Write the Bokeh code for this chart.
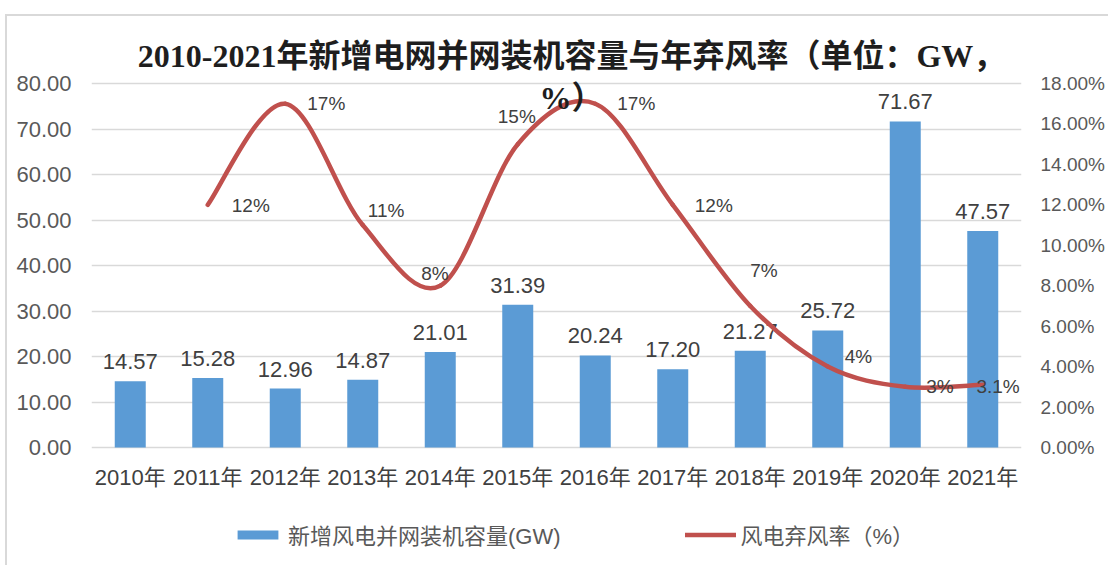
from bokeh.plotting import figure
from bokeh.models import (Range1d, LinearAxis, FixedTicker, PrintfTickFormatter,
                          Label, Legend, LegendItem, ColumnDataSource, InlineStyleSheet)
from bokeh.core.properties import value
from bokeh.embed import file_html
from bokeh.resources import INLINE

# ---------------- data ----------------
years = ["2010年", "2011年", "2012年", "2013年", "2014年", "2015年",
         "2016年", "2017年", "2018年", "2019年", "2020年", "2021年"]
capacity = [14.57, 15.28, 12.96, 14.87, 21.01, 31.39, 20.24, 17.20, 21.27, 25.72, 71.67, 47.57]
curtail = [None, 12, 17, 11, 8, 15, 17, 12, 7, 4, 3, 3.1]

title_line1 = "2010-2021年新增电网并网装机容量与年弃风率（单位：GW，"
title_line2 = "%）"
bar_name = "新增风电并网装机容量(GW)"
line_name = "风电弃风率（%）"

# label offsets (style only, px)
lbl_dx = [0, 24, 22, 5, -19, -20, 22, 22, 0, 17, 21, 37]
lbl_dy = [0, 1, 0, -15, -12, -28, 0, 1, -35, -10, 0, 2]
lbl_align = ["left"] * 11 + ["right"]

BLUE = "#5B9BD5"
RED = "#C0504D"
SANS = "Liberation Sans, Noto Sans CJK SC"

# layout constants (page px): grid 80 at y=83, grid 0 at y=447, frame from x=91 to ~1023
W, H = 1108, 565
PX_PER_UNIT = 364 / 80.0
TOP_EXTRA = 63          # frame extends above the 80 line (title room)
BOTTOM_EXTRA = H - 447  # frame extends below the 0 line (x labels + legend room)
Y_END = 80 + TOP_EXTRA / PX_PER_UNIT
Y_START = -BOTTOM_EXTRA / PX_PER_UNIT

n = len(years)
xs = [i + 0.5 for i in range(n)]

p = figure(width=W, height=H, output_backend="svg", toolbar_location=None,
           x_range=Range1d(0, n), y_range=Range1d(Y_START, Y_END),
           min_border_left=91, min_border_right=87, min_border_top=83 - TOP_EXTRA,
           min_border_bottom=0)
p.extra_y_ranges = {"pct": Range1d(Y_START * 18 / 80.0, Y_END * 18 / 80.0)}
p.outline_line_color = None
p.background_fill_color = "white"
p.border_fill_color = "white"
p.xgrid.visible = False
p.ygrid.grid_line_color = "#D9D9D9"
p.ygrid.grid_line_width = 1.5
p.stylesheets = [InlineStyleSheet(css=(
    ":host::after{content:'';position:absolute;left:5px;top:14px;width:1300px;height:700px;"
    "border-left:2px solid #D9D9D9;border-top:2px solid #D9D9D9;pointer-events:none;}"))]

p.yaxis.ticker = FixedTicker(ticks=list(range(0, 81, 10)))
p.yaxis.formatter = PrintfTickFormatter(format="%.2f")
p.xaxis.ticker = FixedTicker(ticks=xs)
p.xaxis.major_label_overrides = {x: y for x, y in zip(xs, years)}
p.xaxis.fixed_location = 0

right = LinearAxis(y_range_name="pct", ticker=FixedTicker(ticks=list(range(0, 19, 2))),
                   formatter=PrintfTickFormatter(format="%.2f%%"))
p.add_layout(right, "right")

for ax in [p.xaxis[0], p.yaxis[0], right]:
    ax.axis_line_color = None
    ax.major_tick_line_color = None
    ax.minor_tick_line_color = None
    ax.major_tick_out = 0
    ax.major_tick_in = 0
    ax.major_label_text_color = "#595959"
    ax.major_label_text_font = SANS
p.yaxis[0].major_label_text_font_size = "22px"
p.yaxis[0].major_label_standoff = 20
right.major_label_text_font_size = "19px"
right.major_label_standoff = 19
p.xaxis[0].major_label_text_font_size = "22px"
p.xaxis[0].major_label_standoff = 17
p.xaxis[0].major_label_text_color = "#404040"

# bars
bsrc = ColumnDataSource(dict(x=xs, top=capacity, txt=["%.2f" % v for v in capacity]))
bars = p.vbar(x="x", top="top", width=0.4, source=bsrc, fill_color=BLUE, line_color=None)
p.text(x="x", y="top", text="txt", source=bsrc, text_align="center", text_baseline="bottom",
       y_offset=-12, text_font=value(SANS), text_font_size="22px", text_color="#404040")

# smooth line via bezier segments (Catmull-Rom style control points)
pts = [(x, v) for x, v in zip(xs, curtail) if v is not None]
x0s, y0s, x1s, y1s, cx0s, cy0s, cx1s, cy1s = [], [], [], [], [], [], [], []
for i in range(len(pts) - 1):
    pm = pts[i - 1] if i > 0 else pts[i]
    p0 = pts[i]
    p1 = pts[i + 1]
    pp = pts[i + 2] if i + 2 < len(pts) else pts[i + 1]
    x0s.append(p0[0]); y0s.append(p0[1]); x1s.append(p1[0]); y1s.append(p1[1])
    cx0s.append(p0[0] + (p1[0] - pm[0]) / 6.0); cy0s.append(p0[1] + (p1[1] - pm[1]) / 6.0)
    cx1s.append(p1[0] - (pp[0] - p0[0]) / 6.0); cy1s.append(p1[1] - (pp[1] - p0[1]) / 6.0)
curve = p.bezier(x0=x0s, y0=y0s, x1=x1s, y1=y1s, cx0=cx0s, cy0=cy0s, cx1=cx1s, cy1=cy1s,
                 y_range_name="pct", line_color=RED, line_width=4.5, line_cap="round")

lx, ly, lt, ldx, ldy, lal = [], [], [], [], [], []
for i, v in enumerate(curtail):
    if v is None:
        continue
    lx.append(xs[i]); ly.append(v); lt.append(f"{v:g}%")
    ldx.append(lbl_dx[i]); ldy.append(lbl_dy[i]); lal.append(lbl_align[i])
lsrc = ColumnDataSource(dict(x=lx, y=ly, t=lt, dx=ldx, dy=ldy, al=lal))
p.text(x="x", y="y", text="t", x_offset="dx", y_offset="dy", source=lsrc, y_range_name="pct",
       text_align="al", text_baseline="middle", text_font=value(SANS),
       text_font_size="19px", text_color="#404040")

# title (inside the extended frame, overlapping the plot like the reference)
TFONT = "Liberation Serif, Noto Sans CJK SC"
for txt, page_y in [(title_line1, 55), (title_line2, 97)]:
    p.add_layout(Label(x=480, y=H - page_y, x_units="screen", y_units="screen",
                       text=txt, text_align="center", text_baseline="middle", text_font=TFONT,
                       text_font_style="bold", text_font_size="32px", text_color="#1E1E1E"))

legend = Legend(items=[LegendItem(label=bar_name, renderers=[bars]),
                       LegendItem(label=line_name, renderers=[curve])],
                orientation="horizontal", location=(141, H - 550),
                glyph_width=51, glyph_height=11, label_standoff=5, spacing=124,
                padding=0, margin=0, border_line_color=None, background_fill_alpha=0,
                label_text_font=SANS, label_text_font_size="22px", label_text_color="#595959")
p.add_layout(legend)

open("out.html", "w").write(file_html(p, INLINE))
